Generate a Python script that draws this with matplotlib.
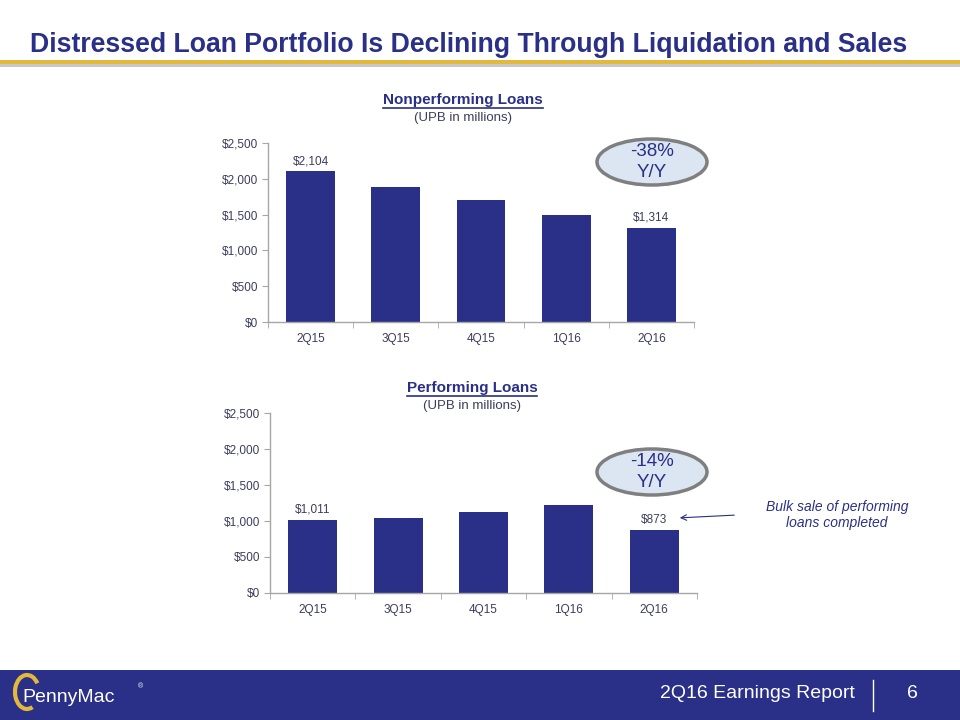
import matplotlib
matplotlib.use("Agg")
import matplotlib.pyplot as plt
from matplotlib.patches import Ellipse, Rectangle, Arc
from matplotlib.lines import Line2D
import matplotlib.ticker as mticker

# ── Datos ──────────────────────────────────────────────────────────────────
quarters = ["2Q15", "3Q15", "4Q15", "1Q16", "2Q16"]
npl_values = [2104, 1885, 1704, 1494, 1314]
pl_values = [1011, 1042, 1125, 1222, 873]
npl_labels = {0: "$2,104", 4: "$1,314"}
pl_labels = {0: "$1,011", 4: "$873"}
y_ticks = [0, 500, 1000, 1500, 2000, 2500]

NAVY = "#2a3087"
TEXT = "#3b3d5e"
GOLD = "#e2b93b"

plt.rcParams["font.family"] = ["Liberation Sans", "DejaVu Sans"]

W, H = 960, 720
fig = plt.figure(figsize=(9.6, 7.2), dpi=100)
fig.patch.set_facecolor("white")


def px_axes(x0, y_top, x1, y_bot):
    return fig.add_axes([x0 / W, 1 - y_bot / H, (x1 - x0) / W, (y_bot - y_top) / H])


def bar_chart(ax, values, labels):
    x = range(len(quarters))
    ax.bar(x, values, width=0.575, color=NAVY, zorder=2)
    ax.set_xlim(-0.5, len(quarters) - 0.5)
    ax.set_ylim(0, 2500)
    ax.set_yticks(y_ticks)
    ax.yaxis.set_major_formatter(mticker.FuncFormatter(lambda v, _: f"${v:,.0f}"))
    ax.set_xticks(list(x))
    ax.set_xticklabels(quarters)
    ax.set_xticks([i - 0.5 for i in range(len(quarters) + 1)], minor=True)
    ax.tick_params(axis="x", which="major", length=0, pad=8, labelsize=8.5, labelcolor=TEXT)
    ax.tick_params(axis="x", which="minor", length=4, direction="out", color="#a6a6a6")
    ax.tick_params(axis="y", length=4, color="#a6a6a6", labelsize=8.5, labelcolor=TEXT, pad=3)
    for s in ["top", "right"]:
        ax.spines[s].set_visible(False)
    for s in ["left", "bottom"]:
        ax.spines[s].set_color("#a6a6a6")
        ax.spines[s].set_linewidth(1)
    ax.patch.set_alpha(0)
    for i, txt in labels.items():
        ax.text(i, values[i] + 60, txt, ha="center", va="bottom", fontsize=8.5, color=TEXT)


ax1 = px_axes(268, 143, 694, 322)
bar_chart(ax1, npl_values, npl_labels)
ax2 = px_axes(270, 413, 697, 593)
bar_chart(ax2, pl_values, pl_labels)

# ── Capa decorativa en pixeles ──────────────────────────────────────────────
deco = fig.add_axes([0, 0, 1, 1], zorder=5)
deco.set_xlim(0, W)
deco.set_ylim(H, 0)
deco.axis("off")
deco.patch.set_alpha(0)

# Titulo
deco.text(30, 45, "Distressed Loan Portfolio Is Declining Through Liquidation and Sales",
          fontsize=19.2, fontweight="bold", color=NAVY, va="center", ha="left")
deco.add_patch(Rectangle((0, 64), W, 3, color="#c8c8c8", lw=0))
deco.add_patch(Rectangle((0, 60), W, 4, color=GOLD, lw=0))

# Titulos de graficos (subrayados)
renderer = fig.canvas.get_renderer()
for cx, y, title in [(463, 100, "Nonperforming Loans"), (472, 388, "Performing Loans")]:
    t = deco.text(cx, y, title, fontsize=11, fontweight="bold", color=NAVY,
                  ha="center", va="center")
    bb = t.get_window_extent(renderer=renderer)
    deco.add_line(Line2D([bb.x0, bb.x1], [y + 8, y + 8], color=NAVY, lw=1.2))
    deco.text(cx, y + 18, "(UPB in millions)", fontsize=9.5, color=TEXT,
              ha="center", va="center")

# Elipses Y/Y
for cy, txt in [(162, "-38%\nY/Y"), (472, "-14%\nY/Y")]:
    deco.add_patch(Ellipse((652, cy), 110, 46, facecolor="#dce6f2",
                           edgecolor="#7f7f7f", lw=2.5))
    deco.text(652, cy, txt, fontsize=13.5, color=NAVY, ha="center", va="center",
              linespacing=1.3)

# Anotacion
deco.text(837, 515, "Bulk sale of performing\nloans completed", fontsize=10,
          style="italic", color=NAVY, ha="center", va="center", linespacing=1.2)
deco.annotate("", xy=(677, 518), xytext=(737, 515),
              arrowprops=dict(arrowstyle="->", color=NAVY, lw=0.8))

# Pie de pagina
deco.add_patch(Rectangle((0, 670), W, 50, color=NAVY, lw=0))
deco.text(855, 694, "2Q16 Earnings Report", fontsize=14, color="white",
          ha="right", va="center")
deco.add_line(Line2D([873, 873], [680, 711], color="white", lw=1))
deco.text(912, 694, "6", fontsize=14, color="white", ha="center", va="center")
deco.add_patch(Arc((27, 692), 24, 34, theta1=70, theta2=320, color=GOLD, lw=3))
deco.text(22, 697, "PennyMac", fontsize=14, color="white", ha="left", va="center")
deco.text(140, 687, "®", fontsize=5, color="white", ha="center", va="center")

fig.savefig("out.png", dpi=100)
